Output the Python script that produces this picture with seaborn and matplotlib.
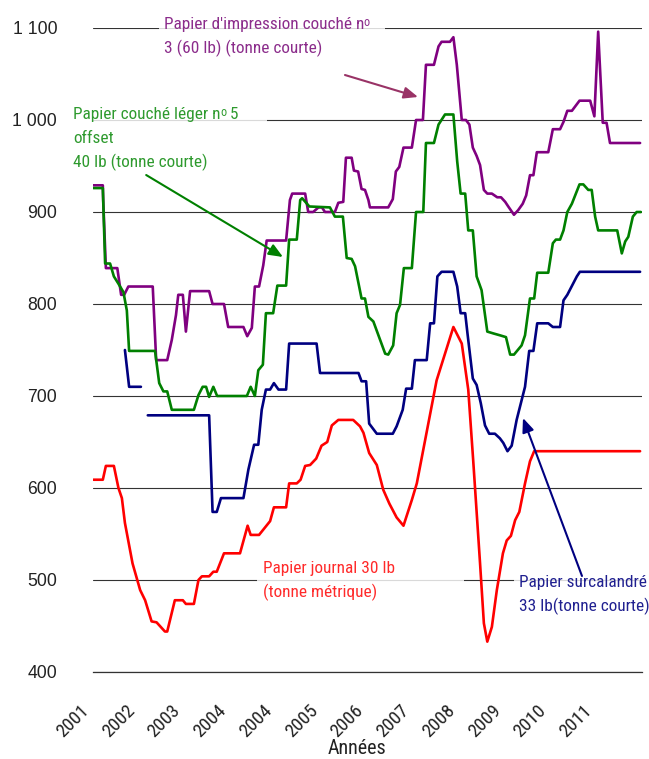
import matplotlib
matplotlib.use("Agg")
import matplotlib.pyplot as plt
import matplotlib.transforms as mtransforms
from matplotlib import font_manager as fm
from matplotlib.font_manager import FontProperties
from matplotlib.patches import Rectangle
import seaborn as sns
import pandas as pd

# ---------------- data (x = months since start of 2001) ----------------
year_labels = ["2001", "2002", "2003", "2004", "2004", "2005", "2006",
               "2007", "2008", "2009", "2010", "2011", ""]

red_m = [0, 2.5, 3.3, 5.4, 6.6, 7.5, 8.3, 10.3, 12.3, 13.6, 15.3, 16.6, 18.8, 19.4, 21.4, 23.5,
         24.3, 26.4, 27.6, 28.5, 30.4, 31.5, 32.4, 34.3, 38.5, 40.5, 41.3, 43.5, 46.4, 47.4,
         50.6, 51.4, 53.4, 54.4, 55.6, 56.9, 58.5, 59.9, 61.4, 62.6, 64.3, 68.2, 70, 70.9,
         72.4, 74.4, 76.1, 77.7, 79.6, 81.4, 83.6, 84.9, 90.1, 94.5, 96.7, 98.4, 99.7, 101.5,
         102.5, 103.4, 104.6, 105.9, 107.5, 108.5, 109.6, 110.7, 111.8, 113.3, 114.6, 115.7, 143.5]
red_v = [609, 609, 624, 624, 600, 589, 562, 518, 489, 478, 455, 454, 444, 444, 478, 478,
         474, 474, 500, 504, 504, 509, 509, 529, 529, 559, 549, 549, 564, 579,
         579, 605, 605, 609, 624, 625, 632, 646, 650, 668, 674, 674, 667, 660,
         638, 625, 598, 583, 568, 559, 587, 605, 717, 775, 757, 707, 630, 518,
         453, 433, 449, 489, 529, 543, 548, 565, 574, 605, 629, 640, 640]

blue1_m = [8.3, 9.4, 12.5]
blue1_v = [750, 710, 710]
blue2_m = [14.3, 30.4, 31.3, 32.4, 33.5, 39.4, 40.7, 42.2, 43.3, 44.2, 45.3, 46.4, 47.4, 48.6,
           50.6, 51.4, 58.6, 59.5, 69.6, 70.4, 71.6, 72.4, 74.4, 78.6, 79.6, 81.2, 82.1, 83.6,
           84.4, 87.5, 88.4, 89.4, 90.3, 91.4, 94.5, 95.5, 96.4, 97.6, 98.2, 99.6, 100.6, 101.7,
           102.8, 103.9, 105.4, 106.7, 107.6, 108.7, 109.8, 111.1, 112.2, 113.3, 114.4, 115.5,
           116.5, 119.4, 120.6, 122.5, 123.4, 124.4, 126.9, 127.7, 143.5]
blue2_v = [679, 679, 574, 574, 589, 589, 620, 647, 647, 685, 707, 707, 714, 707,
           707, 757, 757, 725, 725, 716, 716, 670, 659, 659, 667, 685, 708, 708,
           739, 739, 779, 779, 830, 835, 835, 819, 790, 790, 768, 719, 712, 692,
           668, 659, 659, 654, 649, 640, 646, 674, 692, 710, 749, 749,
           779, 779, 775, 775, 804, 810, 830, 835, 835]

green_m = [0, 2.5, 3.1, 4.4, 5.4, 6.6, 7.9, 8.8, 9.4, 16.2, 17.3, 18.4, 19.4, 20.6, 26.4, 27.6,
           28.7, 29.6, 30.4, 31.5, 32.5, 40.3, 41.3, 42.4, 43.3, 44.5, 45.3, 47.2, 48.3, 50.6,
           51.4, 53.4, 54.3, 54.8, 56.7, 62.1, 63.4, 65.5, 66.5, 67.8, 68.7, 70.4, 71.3, 72.2,
           73.5, 76.6, 77.4, 78.7, 79.6, 80.5, 81.5, 83.6, 84.7, 86.6, 87.3, 89.4, 90.6, 92.3,
           94.5, 95.5, 96.4, 97.6, 98.4, 99.6, 100.6, 101.9, 103.4, 105, 106.7, 108.3, 109.4,
           110.4, 112.4, 113.3, 114.6, 115.7, 116.5, 119.4, 120.6, 121.4, 122.5, 123.4, 124.4,
           125.6, 127.6, 128.6, 129.9, 130.8, 131.7, 132.5, 137.5, 138.7, 139.6, 140.4, 141.6,
           142.6, 143.7]
green_v = [926, 926, 844, 844, 830, 822, 813, 793, 749, 749, 714, 705, 705, 685, 685, 701,
           710, 710, 699, 710, 700, 700, 710, 700, 728, 734, 790, 790, 820, 820,
           870, 870, 913, 915, 906, 905, 895, 895, 850, 849, 841, 806, 806, 786,
           781, 746, 745, 755, 790, 799, 839, 839, 900, 900, 975, 975, 995, 1006,
           1006, 955, 920, 920, 880, 880, 830, 815, 770, 768, 766, 764, 745,
           745, 755, 766, 806, 806, 834, 834, 866, 870, 870, 880, 900,
           909, 930, 930, 924, 924, 895, 880, 880, 855, 868, 873, 895,
           900, 900]

purple_m = [0, 2.5, 2.6, 3.3, 6.3, 7.3, 8.1, 9.2, 15.6, 16.5, 19.4, 20.6, 21.7, 22.3, 23.5, 24.3,
            25.4, 30.4, 31.3, 34.3, 35.4, 39.4, 40.4, 41.6, 42.4, 43.5, 44.6, 45.5, 50.6, 51.6,
            52.2, 55.6, 56.4, 57.7, 59.1, 60, 60.8, 63.4, 64.3, 65.6, 66.3, 67.8, 68.4, 69.5,
            70.4, 71.3, 72.2, 72.6, 77.4, 78.6, 79.4, 80.3, 81.4, 83.6, 84.7, 86.5, 87.3, 89.4,
            90.6, 91.4, 93.6, 94.5, 95.4, 96.7, 97.8, 98.7, 99.6, 100.6, 101.5, 102.5, 103.4,
            104.6, 106, 107, 108.1, 108.9, 110.4, 111.5, 112.7, 113.6, 114.6, 115.5, 116.4,
            119.4, 120.6, 122.5, 123.4, 124.4, 125.6, 127.6, 130.4, 131.5, 132.5, 133.7, 134.7,
            135.6, 143.5]
purple_v = [929, 929, 913, 839, 839, 810, 810, 819, 819, 739, 739, 761, 788, 810, 810, 770,
            814, 814, 800, 800, 775, 775, 765, 774, 819, 819, 842, 869, 869, 913,
            920, 920, 900, 900, 905, 905, 900, 900, 910, 911, 959, 959, 945, 944,
            925, 924, 913, 905, 905, 914, 944, 949, 970, 970, 1000, 1000, 1060, 1060,
            1080, 1085, 1085, 1090, 1060, 1000, 1000, 995, 970, 961, 951, 924, 920,
            920, 916, 916, 911, 906, 897, 902, 909, 918, 940, 940, 965,
            965, 990, 990, 998, 1010, 1010, 1021, 1021, 1004, 1096, 997, 997,
            975, 975]

# ---------------- build long-form table ----------------
frames = []
for name, seg, m, v in [("purple", "p", purple_m, purple_v),
                        ("green", "g", green_m, green_v),
                        ("blue", "b1", blue1_m, blue1_v),
                        ("blue", "b2", blue2_m, blue2_v),
                        ("red", "r", red_m, red_v)]:
    frames.append(pd.DataFrame({"serie": name, "seg": seg, "mois": m, "prix": v}))
df = pd.concat(frames, ignore_index=True)

palette = {"purple": "#800080", "green": "#008000", "blue": "#000080", "red": "#FF0000"}

# ---------------- fonts: look for a narrow / condensed face ----------------
def _normal(f):
    return f.style == "normal" and f.weight in (400, "normal", "regular", "book")


def pick_narrow():
    ttf = fm.fontManager.ttflist
    for name in ["Liberation Sans Narrow", "Arial Narrow", "Roboto Condensed",
                 "Open Sans Condensed", "Noto Sans Condensed", "DejaVu Sans Condensed"]:
        for f in ttf:
            if f.name == name and _normal(f):
                return f

    def is_cond(s):
        if isinstance(s, (int, float)):
            return s < 500
        return "condensed" in str(s)
    cands = [f for f in ttf if is_cond(f.stretch) and _normal(f)]
    order = ["DejaVu Sans", "Noto Sans", "Roboto", "Open Sans", "Liberation Sans", "Lato", "Inter"]
    cands.sort(key=lambda f: order.index(f.name) if f.name in order else 99)
    return cands[0] if cands else None


sns.set_style("white")
plt.rcParams["font.family"] = ["Liberation Sans", "DejaVu Sans"]

_nf = pick_narrow()
if _nf is not None:
    def NP(size):
        return FontProperties(fname=_nf.fname, size=size)
else:
    def NP(size):
        return FontProperties(family=["Liberation Sans", "DejaVu Sans"], size=size)

W, H = 649, 759
fig = plt.figure(figsize=(W / 100, H / 100), dpi=100)
renderer = fig.canvas.get_renderer()


def size_for(text, target_px):
    t = fig.text(0, 0, text, fontproperties=NP(10))
    w = t.get_window_extent(renderer).width
    t.remove()
    return 10 * target_px / w


lab_size = size_for("Papier journal 30 lb", 132)
xt_size = size_for("2001", 37)
xl_size = size_for("Années", 58)

ax = fig.add_axes([93.3 / W, 1 - 672 / H, 548.7 / W, 644 / H])

sns.lineplot(data=df, x="mois", y="prix", hue="serie", units="seg", estimator=None,
             sort=False, palette=palette, linewidth=1.9, legend=False, ax=ax, zorder=3)

ax.set_xlim(0, 144)
ax.set_ylim(400, 1100)
ax.set_yticks(range(400, 1101, 100))
ax.set_yticklabels(["400", "500", "600", "700", "800", "900", "1 000", "1 100"],
                   family=["Liberation Sans", "DejaVu Sans"], fontsize=12.7, color="#222222")
ax.tick_params(axis="y", length=0, pad=26)
ax.grid(axis="y", color="#333333", linewidth=0.8, zorder=0)
ax.set_axisbelow(True)

ax.set_xticks(range(0, 145, 12))
ax.set_xticklabels(year_labels, color="#222222")
ax.tick_params(axis="x", direction="out", length=5, width=0.9, color="#333333", pad=21)
offset = mtransforms.ScaledTranslation(-7.0 / 100, 0, fig.dpi_scale_trans)
for lab in ax.get_xticklabels():
    lab.set_fontproperties(NP(xt_size))
    lab.set_rotation(45)
    lab.set_ha("right")
    lab.set_va("center")
    lab.set_rotation_mode("anchor")
    lab.set_transform(lab.get_transform() + offset)

ax.set_xlabel("Années", fontproperties=NP(xl_size), color="#222222")
ax.set_ylabel("")
ax.xaxis.set_label_coords((357 - 93.3) / 548.7, (672 - 748) / 644)
ax.xaxis.label.set_va("center")

for s in ["left", "right", "top"]:
    ax.spines[s].set_visible(False)
ax.spines["bottom"].set_color("#333333")
ax.spines["bottom"].set_linewidth(0.9)

# ---------------- label boxes (axes fraction) ----------------
boxes = [(0.120, 0.915, 0.412, 0.121),
         (-0.048, 0.776, 0.364, 0.115),
         (0.298, 0.093, 0.377, 0.092),
         (0.766, 0.073, 0.247, 0.078)]
for (bx, by, bw, bh) in boxes:
    ax.add_patch(Rectangle((bx, by), bw, bh, transform=ax.transAxes, facecolor="white",
                           edgecolor="none", alpha=0.82, zorder=1, clip_on=False))

# each line: (text before superscript, superscript, text after)
labels = [
    (0.1289, [0.9980, 0.9607], [("Papier d'impression couché n", "o", ""),
                                ("3 (60 lb) (tonne courte)", "", "")], "#8B2C8B"),
    (-0.0364, [0.8582, 0.8210, 0.7846], [("Papier couché léger n", "o", " 5"),
                                         ("offset", "", ""),
                                         ("40 lb (tonne courte)", "", "")], "#2E9A2E"),
    (0.3087, [0.1533, 0.1160], [("Papier journal 30 lb", "", ""),
                                ("(tonne métrique)", "", "")], "#FF2A2A"),
    (0.7764, [0.1325, 0.0947], [("Papier surcalandré", "", ""),
                                ("33 lb(tonne courte)", "", "")], "#202090"),
]
for x0, ys, lines, col in labels:
    for yy, (t1, sup, t2) in zip(ys, lines):
        main = ax.text(x0, yy, t1, transform=ax.transAxes, ha="left", va="baseline",
                       fontproperties=NP(lab_size), color=col, zorder=4, clip_on=False)
        if sup:
            so = ax.annotate(sup, xy=(1, 1), xycoords=main, xytext=(-0.6, 0.8),
                             textcoords="offset points", ha="left", va="top",
                             fontproperties=NP(lab_size * 0.7), color=col, zorder=4,
                             annotation_clip=False)
            if t2:
                ax.annotate(t2, xy=(1, 0), xycoords=(so, main), ha="left", va="bottom",
                            fontproperties=NP(lab_size), color=col, zorder=4,
                            annotation_clip=False)

# ---------------- arrows ----------------
arrows = [((0.4587, 0.927), (0.5918, 0.8929), "#993366"),
          ((0.0964, 0.7717), (0.3457, 0.6444), "#008000"),
          ((0.8906, 0.1491), (0.7831, 0.3944), "#000080")]
for (sx, sy), (tx, ty), col in arrows:
    ax.annotate("", xy=(tx, ty), xytext=(sx, sy), xycoords="axes fraction",
                textcoords="axes fraction",
                arrowprops=dict(arrowstyle="-|>,head_length=0.6,head_width=0.25",
                                mutation_scale=14, color=col, lw=1.5,
                                shrinkA=0, shrinkB=0), zorder=5)

fig.savefig("out.png", dpi=100)
